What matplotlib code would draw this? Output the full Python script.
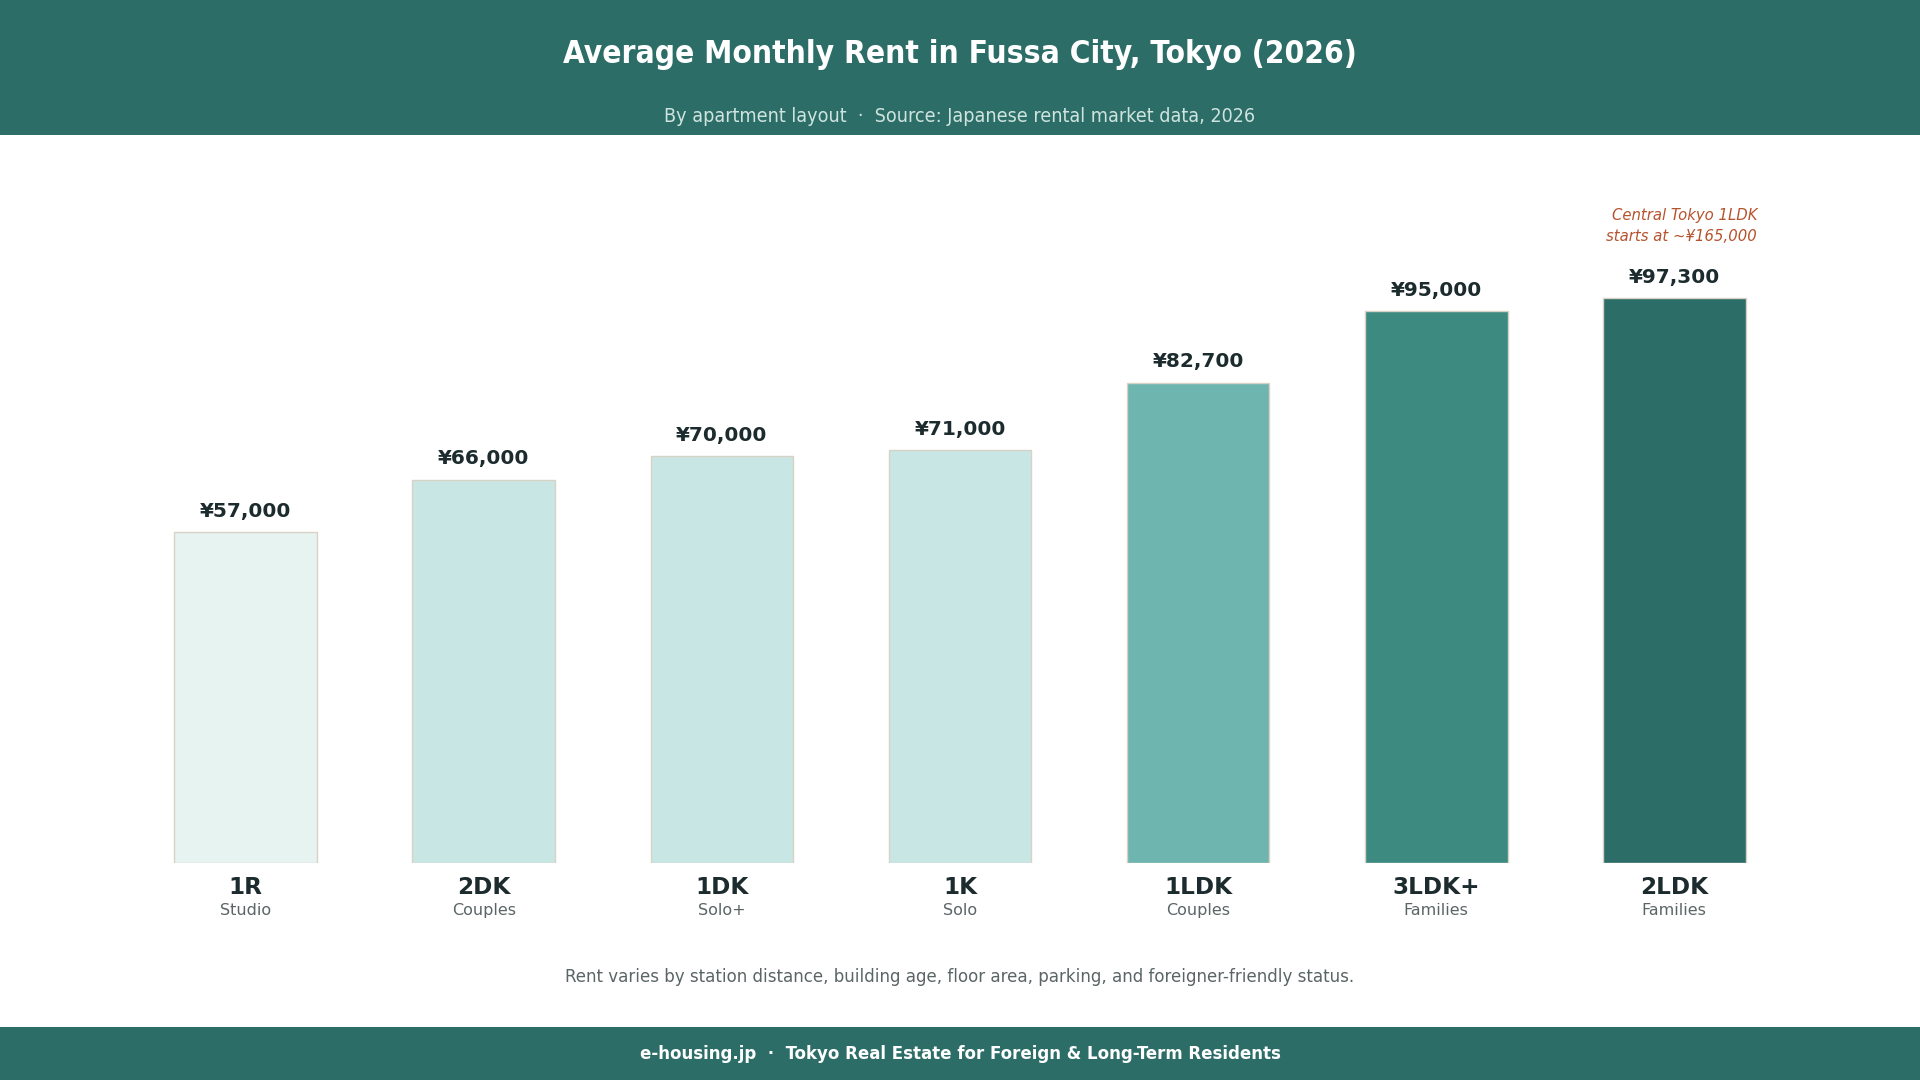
import matplotlib
matplotlib.use("Agg")
import matplotlib.pyplot as plt
from matplotlib.patches import Rectangle

layouts = ["1R", "2DK", "1DK", "1K", "1LDK", "3LDK+", "2LDK"]
residents = ["Studio", "Couples", "Solo+", "Solo", "Couples", "Families", "Families"]
rents = [57000, 66000, 70000, 71000, 82700, 95000, 97300]
bar_colors = ["#e7f3f1", "#c8e6e4", "#c8e6e4", "#c8e6e4", "#6eb5b0", "#3d8a80", "#2c6e67"]

HEADER = "#2c6e67"
DARK = "#1c2b2d"
GREY = "#5b6566"

plt.rcParams["font.family"] = ["DejaVu Sans"]

fig = plt.figure(figsize=(19.2, 10.8), dpi=100)
fig.patch.set_facecolor("white")

# header and footer bands
fig.patches.append(Rectangle((0, 1 - 135 / 1080), 1, 135 / 1080, transform=fig.transFigure,
                             facecolor=HEADER, edgecolor="none", zorder=0))
fig.patches.append(Rectangle((0, 0), 1, 53 / 1080, transform=fig.transFigure,
                             facecolor=HEADER, edgecolor="none", zorder=0))

fig.text(0.5, 1 - 54.5 / 1080, "Average Monthly Rent in Fussa City, Tokyo (2026)",
         ha="center", va="center", color="white", fontsize=22.7, fontweight="bold",
         fontstretch="condensed")
fig.text(0.5, 1 - 116.5 / 1080,
         "By apartment layout  \u00b7  Source: Japanese rental market data, 2026",
         ha="center", va="center", color="#cfe3df", fontsize=14.1, fontstretch="condensed")
fig.text(0.5, 1 - 977 / 1080,
         "Rent varies by station distance, building age, floor area, parking, and foreigner-friendly status.",
         ha="center", va="center", color=GREY, fontsize=13.3, fontstretch="condensed")
fig.text(0.5, 1 - 1054 / 1080,
         "e-housing.jp  \u00b7  Tokyo Real Estate for Foreign & Long-Term Residents",
         ha="center", va="center", color="white", fontsize=13.3, fontweight="bold",
         fontstretch="condensed")

# axes: baseline at y=863 px, top at 160 px
ax_left = 103 / 1920
ax_width = 1714 / 1920
ax_bottom = 1 - 863 / 1080
ax_height = (863 - 160) / 1080
ax = fig.add_axes([ax_left, ax_bottom, ax_width, ax_height])
x = list(range(len(layouts)))
ax.bar(x, rents, width=0.6, color=bar_colors, edgecolor="#d8d2c6", linewidth=1.0, zorder=2)
ax.set_xlim(-0.6, len(layouts) - 0.4)
ax.set_ylim(0, 121000)
ax.axis("off")

for xi, val in zip(x, rents):
    ax.annotate("\u00a5{:,}".format(val), (xi, val), xytext=(0, 8), textcoords="offset points",
                ha="center", va="bottom", fontsize=14.5, fontweight="bold", color=DARK)
    ax.annotate(layouts[xi], (xi, 0), xytext=(0, -18), textcoords="offset points",
                ha="center", va="center", fontsize=16.7, fontweight="bold", color=DARK)
    ax.annotate(residents[xi], (xi, 0), xytext=(0, -34), textcoords="offset points",
                ha="center", va="center", fontsize=11.5, color=GREY)

ax.annotate("Central Tokyo 1LDK\nstarts at ~\u00a5165,000", (len(layouts) - 1, rents[-1]),
            xytext=(1757 - 1674, 54), textcoords="offset pixels",
            ha="right", va="bottom", fontsize=10.7, fontstyle="italic", color="#b5532e",
            linespacing=1.45)

fig.savefig("out.png", dpi=100, facecolor=fig.get_facecolor())
